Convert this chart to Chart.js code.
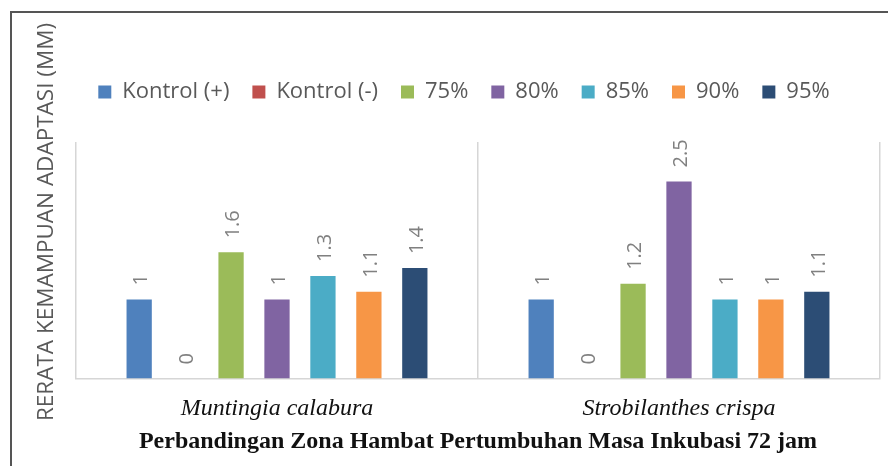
<!DOCTYPE html>
<html>
<head>
<meta charset="utf-8">
<script src="https://cdn.jsdelivr.net/npm/chart.js@4/dist/chart.umd.min.js"></script>
<style>
  body { margin: 0; background: #fff; }
  #wrap {
    position: absolute; left: 10px; top: 11px;
    width: 878px; height: 455px;
    border-left: 2px solid #555; border-top: 2px solid #555;
  }
  #wrap canvas { display: block; }
</style>
</head>
<body>
<div id="wrap"><canvas id="zonaChart" width="876" height="453"></canvas></div>
<script>
// Data
const categories = ['Muntingia calabura', 'Strobilanthes crispa'];
const seriesNames = ['Kontrol (+)', 'Kontrol (-)', '75%', '80%', '85%', '90%', '95%'];
const kontrolPlus = [1, 1];
const kontrolMinus = [0, 0];
const konsentrasi75 = [1.6, 1.2];
const konsentrasi80 = [1, 2.5];
const konsentrasi85 = [1.3, 1];
const konsentrasi90 = [1.1, 1];
const konsentrasi95 = [1.4, 1.1];
const yTicks = [0, 3]; // axis range (ticks hidden)

const seriesValues = [kontrolPlus, kontrolMinus, konsentrasi75, konsentrasi80, konsentrasi85, konsentrasi90, konsentrasi95];
const seriesColors = ['#4f81bd', '#c0504d', '#9bbb59', '#8064a2', '#4bacc6', '#f79646', '#2c4d75'];

// Rotated value labels above each bar
const valueLabels = {
  id: 'valueLabels',
  afterDatasetsDraw(chart) {
    const ctx = chart.ctx;
    ctx.save();
    ctx.font = '20px "Open Sans"';
    ctx.fillStyle = '#808080';
    ctx.textAlign = 'left';
    ctx.textBaseline = 'middle';
    chart.data.datasets.forEach((ds, i) => {
      chart.getDatasetMeta(i).data.forEach((bar, j) => {
        ctx.save();
        ctx.translate(bar.x + 2, bar.y - 14);
        ctx.rotate(-Math.PI / 2);
        ctx.fillText(String(ds.data[j]), 0, 0);
        ctx.restore();
      });
    });
    ctx.restore();
  }
};

// Y axis title, placed like the original (not centred on the axis)
const yTitle = {
  id: 'yTitle',
  afterDraw(chart) {
    const ctx = chart.ctx;
    ctx.save();
    ctx.translate(35, 209);
    ctx.rotate(-Math.PI / 2);
    ctx.font = '22.5px "Open Sans"';
    ctx.fillStyle = '#595959';
    ctx.textAlign = 'center';
    ctx.textBaseline = 'middle';
    ctx.fillText('RERATA KEMAMPUAN ADAPTASI (MM)', 0, 0);
    ctx.restore();
  }
};

// extra room under the legend, and nudge it left a bit
const legendSpacing = {
  id: 'legendSpacing',
  beforeInit(chart) {
    const fit = chart.legend.fit;
    chart.legend.fit = function () {
      fit.bind(chart.legend)();
      this.height += 29;
    };
  },
  afterLayout(chart) {
    chart.legend.left -= 14;
    chart.legend.right -= 14;
  }
};

const ctx = document.getElementById('zonaChart').getContext('2d');
new Chart(ctx, {
  type: 'bar',
  data: {
    labels: categories,
    datasets: seriesNames.map((name, i) => ({
      label: name,
      data: seriesValues[i],
      backgroundColor: seriesColors[i],
      borderWidth: 0,
      categoryPercentage: 0.8,
      barPercentage: 0.55
    }))
  },
  options: {
    responsive: false,
    animation: false,
    layout: { padding: { left: 64, right: 8, top: 45, bottom: 0 } },
    plugins: {
      legend: {
        position: 'top',
        labels: {
          boxWidth: 13,
          boxHeight: 13,
          padding: 23,
          color: '#595959',
          font: { family: '"Open Sans"', size: 22 }
        }
      },
      title: {
        display: true,
        position: 'bottom',
        text: 'Perbandingan Zona Hambat Pertumbuhan Masa Inkubasi 72 jam',
        color: '#111',
        font: { family: '"Liberation Serif"', size: 24, weight: 'bold' },
        padding: { top: -12, bottom: 10 }
      },
      tooltip: { enabled: false }
    },
    scales: {
      x: {
        grid: { display: true, offset: true, color: '#d6d6d6', lineWidth: 1.5, drawTicks: false },
        border: { display: true, color: '#d6d6d6', width: 1.5 },
        ticks: {
          padding: 16,
          color: '#111',
          font: { family: '"Liberation Serif"', size: 24, style: 'italic' }
        }
      },
      y: {
        display: false,
        min: yTicks[0],
        max: yTicks[1]
      }
    }
  },
  plugins: [valueLabels, yTitle, legendSpacing]
});
</script>
</body>
</html>
